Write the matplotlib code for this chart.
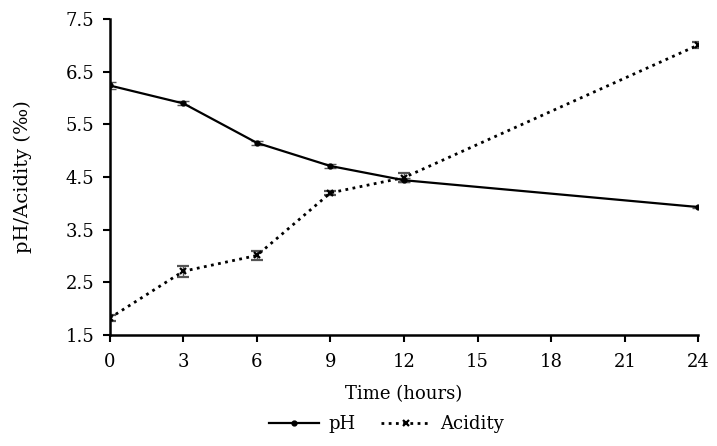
import matplotlib
matplotlib.use("Agg")
import matplotlib.pyplot as plt
from matplotlib.lines import Line2D

# data
hours = [0, 3, 6, 9, 12, 24]
ph = [6.24, 5.90, 5.15, 4.71, 4.44, 3.93]
ph_err = [0.07, 0.04, 0.04, 0.03, 0.04, 0.02]
acidity = [1.82, 2.71, 3.01, 4.20, 4.49, 7.01]
acidity_err = [0.05, 0.10, 0.08, 0.04, 0.08, 0.05]

x_ticks = [0, 3, 6, 9, 12, 15, 18, 21, 24]
y_ticks = [1.5, 2.5, 3.5, 4.5, 5.5, 6.5, 7.5]

plt.rcParams["font.family"] = ["DejaVu Serif"]

fig = plt.figure(figsize=(7.17, 4.46), dpi=100)
ax = fig.add_axes([0.153, 0.249, 0.821, 0.708])

ph_style = dict(color="black", lw=1.6, marker="o", ms=3.5)
ac_style = dict(color="black", lw=2, ls=(0, (1, 1.6)), marker="x", ms=5, mew=1.6)
err_style = dict(ecolor="#555555", elinewidth=1, capsize=4, capthick=1)

ax.errorbar(hours, ph, yerr=ph_err, **ph_style, **err_style)
ax.errorbar(hours, acidity, yerr=acidity_err, **ac_style, **err_style)

ax.set_xlim(0, 24)
ax.set_ylim(1.5, 7.5)
ax.set_xticks(x_ticks)
ax.set_yticks(y_ticks)
ax.set_yticklabels([f"{v:.1f}" for v in y_ticks])
ax.tick_params(labelsize=13, width=1.5, length=5, color="black")
ax.tick_params(axis="x", pad=8)
ax.tick_params(axis="y", pad=6)
for s in ("top", "right"):
    ax.spines[s].set_visible(False)
for s in ("left", "bottom"):
    ax.spines[s].set_linewidth(1.8)
ax.set_xlabel("Time (hours)", fontsize=13, labelpad=10)
ax.set_ylabel("pH/Acidity (‰)", fontsize=14, labelpad=24)

handles = [Line2D([], [], **ph_style), Line2D([], [], **ac_style)]
ax.legend(handles, ["pH", "Acidity"], loc="upper center",
          bbox_to_anchor=(0.47, -0.225), ncol=2, frameon=False, fontsize=13,
          handlelength=2.8, columnspacing=1.4, handletextpad=0.5,
          borderpad=0)

fig.savefig("out.png", dpi=100)
